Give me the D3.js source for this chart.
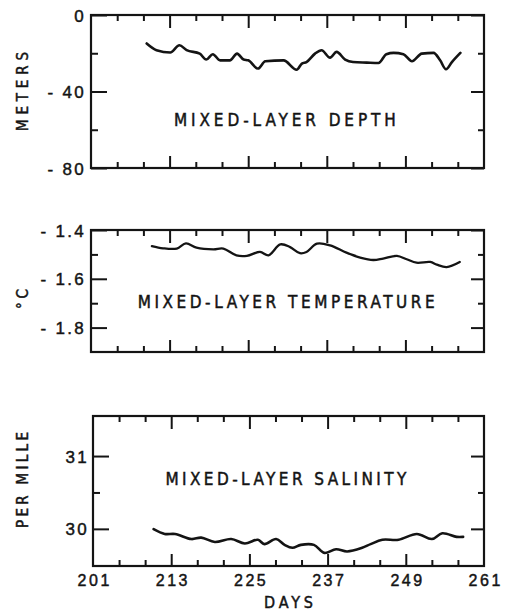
<!DOCTYPE html>
<html><head><meta charset="utf-8">
<script src="https://cdn.jsdelivr.net/npm/d3@7"></script>
<style>
html,body{margin:0;padding:0;background:#fff;}
svg{display:block;font-family:"DejaVu Sans Condensed","DejaVu Sans",sans-serif;}
text{stroke:#141414;stroke-width:0.45px;}
</style></head>
<body>
<script>
// ---------- data ----------
const depthDays   = [209.5,211.0,213.1,214.5,215.6,217.6,218.6,219.6,220.7,222.2,223.3,224.3,225.0,226.5,227.6,230.4,232.4,233.2,233.9,235.2,236.2,237.5,238.5,239.8,241.0,243.1,244.9,246.1,247.2,248.7,250.0,251.5,253.3,254.3,255.2,256.1,257.4];
const depthValues = [-14.9,-18.4,-19.6,-15.8,-18.4,-20.2,-23.3,-20.5,-23.7,-23.7,-20.2,-23.3,-23.7,-28.0,-24.2,-23.7,-28.6,-25.4,-24.6,-20.2,-18.4,-22.3,-19.3,-23.3,-24.6,-24.9,-25.1,-20.5,-19.8,-20.5,-24.2,-20.2,-19.8,-23.7,-28.4,-24.6,-19.8];

const tempDays   = [210.3,212.0,214.1,215.5,217.1,219.7,221.2,223.2,224.8,226.8,228.1,229.9,231.4,232.9,233.9,235.5,237.5,240.0,242.1,244.1,245.6,247.7,249.2,250.7,252.8,253.8,255.3,257.3];
const tempValues = [-1.466,-1.475,-1.476,-1.455,-1.472,-1.479,-1.476,-1.504,-1.506,-1.490,-1.504,-1.459,-1.470,-1.495,-1.490,-1.456,-1.463,-1.493,-1.513,-1.523,-1.517,-1.506,-1.520,-1.534,-1.531,-1.542,-1.552,-1.531];

const salDays   = [210.3,212.0,213.6,216.1,217.6,219.7,222.2,224.3,226.3,227.3,229.1,230.4,231.6,232.9,234.9,236.5,238.3,240.0,242.3,243.6,245.4,247.9,250.7,253.0,254.6,256.8,257.8];
const salValues = [29.996,29.93,29.93,29.86,29.88,29.82,29.86,29.80,29.85,29.79,29.86,29.78,29.74,29.78,29.78,29.67,29.72,29.69,29.74,29.79,29.85,29.85,29.93,29.86,29.94,29.89,29.89];

const dayLabelTicks = [201,213,225,237,249,261];
const dayMajorTicks = [213,225,237,249];
const dayMinorTicks = [205,209,217,221,229,233,241,245,253,257];

const depthMajorTicks = [0,-40,-80];
const depthTickLabels = ["0","- 40","- 80"];
const depthMinorTicks = [-20,-60];

const tempMajorTicks = [-1.4,-1.6,-1.8];
const tempTickLabels = ["- 1.4","- 1.6","- 1.8"];
const tempMinorTicks = [-1.5,-1.7];

const salMajorTicks = [31,30];
const salTickLabels = ["31","30"];
const salMinorTicks = [30.5];

// ---------- layout ----------
const W = 507, H = 611;
const svg = d3.select("body").append("svg").attr("width", W).attr("height", H);
const ink = "#141414";

const panels = [
  {days: depthDays, values: depthValues, domain: [-80, 0], major: depthMajorTicks, labels: depthTickLabels, minor: depthMinorTicks,
   left: 91, right: 484, top: 15, bottom: 168, lw: 2.6, curve: d3.curveMonotoneX,
   title: "MIXED-LAYER DEPTH", titleDay: 230.6, titleVal: -58, titleLen: 222,
   ytitle: "METERS", ytitleLen: 79, ytitleVal: -40, labelRight: 86},
  {days: tempDays, values: tempValues, domain: [-1.9, -1.4], major: tempMajorTicks, labels: tempTickLabels, minor: tempMinorTicks,
   left: 91, right: 484, top: 230, bottom: 352, lw: 2.3, curve: d3.curveCatmullRom,
   title: "MIXED-LAYER TEMPERATURE", titleDay: 230.8, titleVal: -1.72, titleLen: 297,
   ytitle: "°C", ytitleLen: 20, ytitleVal: -1.683, labelRight: 86},
  {days: salDays, values: salValues, domain: [29.49, 31.55], major: salMajorTicks, labels: salTickLabels, minor: salMinorTicks,
   left: 93, right: 484, top: 416, bottom: 566, lw: 2.6, curve: d3.curveCatmullRom,
   title: "MIXED-LAYER SALINITY", titleDay: 230.6, titleVal: 30.60, titleLen: 241,
   ytitle: "PER MILLE", ytitleLen: 96, ytitleVal: 30.67, labelRight: 89, xlabels: true}
];

function clean(g){ g.select(".domain").remove(); g.selectAll("line").attr("stroke", ink).attr("stroke-width", 2); return g; }

panels.forEach(p => {
  const x = d3.scaleLinear().domain([201, 261]).range([p.left, p.right]);
  const y = d3.scaleLinear().domain(p.domain).range([p.bottom, p.top]);
  const g = svg.append("g");

  g.append("rect").attr("x", x(201)).attr("y", y(p.domain[1]))
    .attr("width", x(261) - x(201)).attr("height", y(p.domain[0]) - y(p.domain[1]))
    .attr("fill", "none").attr("stroke", ink).attr("stroke-width", 2.2);

  g.append("g").attr("transform", `translate(0,${p.top})`)
    .call(d3.axisBottom(x).tickValues(dayMinorTicks).tickSize(6).tickFormat("")).call(clean);
  g.append("g").attr("transform", `translate(0,${p.top})`)
    .call(d3.axisBottom(x).tickValues(dayMajorTicks).tickSize(13).tickFormat("")).call(clean);
  g.append("g").attr("transform", `translate(0,${p.bottom})`)
    .call(d3.axisTop(x).tickValues(dayMinorTicks).tickSize(6).tickFormat("")).call(clean);
  g.append("g").attr("transform", `translate(0,${p.bottom})`)
    .call(d3.axisTop(x).tickValues(dayMajorTicks).tickSize(12).tickFormat("")).call(clean);
  g.append("g").attr("transform", `translate(${p.left},0)`)
    .call(d3.axisRight(y).tickValues(p.minor).tickSize(7).tickFormat("")).call(clean);
  g.append("g").attr("transform", `translate(${p.left},0)`)
    .call(d3.axisRight(y).tickValues(p.major).tickSize(16).tickFormat("")).call(clean);
  g.append("g").attr("transform", `translate(${p.right},0)`)
    .call(d3.axisLeft(y).tickValues(p.minor).tickSize(6).tickFormat("")).call(clean);
  g.append("g").attr("transform", `translate(${p.right},0)`)
    .call(d3.axisLeft(y).tickValues(p.major).tickSize(13).tickFormat("")).call(clean);

  const yl = g.append("g").attr("transform", `translate(${p.labelRight},0)`)
    .call(d3.axisLeft(y).tickValues(p.major).tickSize(0).tickPadding(0)
      .tickFormat((d, i) => p.labels[i]));
  yl.select(".domain").remove();
  yl.selectAll("text").attr("fill", ink).attr("font-size", 17).attr("letter-spacing", 2.3)
    .attr("font-family", null).attr("dy", "0.36em");

  if (p.xlabels) {
    const xl = g.append("g").attr("transform", `translate(0,${p.bottom})`)
      .call(d3.axisBottom(x).tickValues(dayLabelTicks).tickSize(0).tickPadding(9).tickFormat(d3.format("d")));
    xl.select(".domain").remove();
    xl.selectAll("text").attr("fill", ink).attr("font-size", 16).attr("letter-spacing", 2.5)
      .attr("font-family", null).attr("dx", "1.2px");
    g.append("text").attr("x", x(231)).attr("y", p.bottom + 42)
      .attr("text-anchor", "middle").attr("font-size", 16).attr("fill", ink)
      .attr("textLength", 49).attr("lengthAdjust", "spacing").text("DAYS");
  }

  const line = d3.line().x((d, i) => x(p.days[i])).y(d => y(d)).curve(p.curve);
  g.append("path").datum(p.values).attr("d", line)
    .attr("fill", "none").attr("stroke", ink).attr("stroke-width", p.lw)
    .attr("stroke-linejoin", "round").attr("stroke-linecap", "round");

  g.append("text").attr("x", x(p.titleDay)).attr("y", y(p.titleVal))
    .attr("text-anchor", "middle").attr("font-size", 17).attr("fill", ink)
    .attr("textLength", p.titleLen).attr("lengthAdjust", "spacing").text(p.title);

  g.append("text").attr("transform", `translate(28,${y(p.ytitleVal)}) rotate(-90)`)
    .attr("text-anchor", "middle").attr("font-size", 15).attr("fill", ink)
    .attr("textLength", p.ytitleLen).attr("lengthAdjust", "spacing").text(p.ytitle);
});
</script>
</body></html>
